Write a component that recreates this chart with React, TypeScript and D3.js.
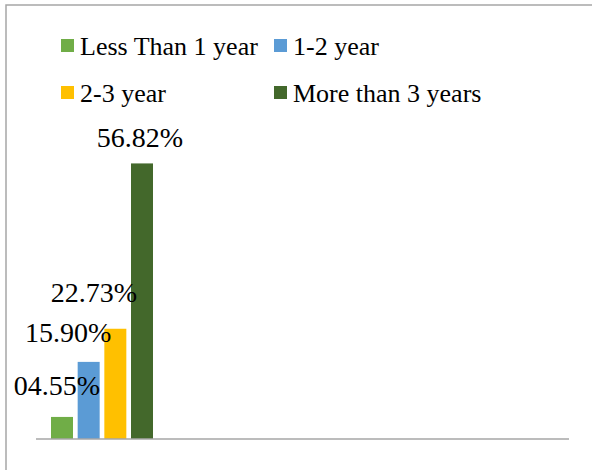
import React from "react";
import * as d3 from "d3";

const seriesNames = ["Less Than 1 year", "1-2 year", "2-3 year", "More than 3 years"];
const seriesValues = [4.55, 15.9, 22.73, 56.82];
const valueLabels = ["04.55%", "15.90%", "22.73%", "56.82%"];
const seriesColors = ["#70AD47", "#5B9BD5", "#FFC000", "#43682B"];
const labelDx = [-5, -20.5, -21.5, -2];
const labelDy = [22, 20, 27, 16];

const W = 592;
const H = 470;
const FONT = "Liberation Serif, Tinos, DejaVu Serif, serif";

export default function App() {
  const y = d3.scaleLinear().domain([0, 60]).range([439, 148]);
  const x = d3.scaleBand<string>().domain(seriesNames).range([51, 153]).paddingInner(0.175).paddingOuter(0);
  const legendPos = [
    { x: 61, y: 39 },
    { x: 274, y: 39 },
    { x: 61, y: 86 },
    { x: 274, y: 86 },
  ];
  return (
    <div style={{ position: "absolute", left: 0, top: 0 }}>
      <svg width={W} height={H} style={{ display: "block", background: "#fff", fontFamily: FONT }}>
        <rect x={6} y={5} width={620} height={500} fill="#fff" stroke="#A6A6A6" strokeWidth={1.5} />
        {seriesNames.map((s, i) => (
          <g key={s}>
            <rect x={legendPos[i].x} y={legendPos[i].y} width={13} height={13} fill={seriesColors[i]} />
            <text x={legendPos[i].x + 19} y={legendPos[i].y + 16} style={{ fontFamily: FONT }} fontSize={26} fill="#000">
              {s}
            </text>
          </g>
        ))}
        {seriesNames.map((s, i) => (
          <rect key={s} x={x(s)} y={y(seriesValues[i])} width={x.bandwidth()} height={y(0) - y(seriesValues[i])} fill={seriesColors[i]} />
        ))}
        <line x1={36} x2={569} y1={y(0)} y2={y(0)} stroke="#A6A6A6" strokeWidth={1.5} />
        {seriesNames.map((s, i) => (
          <text
            key={s}
            x={(x(s) as number) + x.bandwidth() / 2 + labelDx[i]}
            y={y(seriesValues[i]) - labelDy[i]}
            textAnchor="middle"
            style={{ fontFamily: FONT }}
            fontSize={28}
            fill="#000"
          >
            {valueLabels[i]}
          </text>
        ))}
      </svg>
    </div>
  );
}
